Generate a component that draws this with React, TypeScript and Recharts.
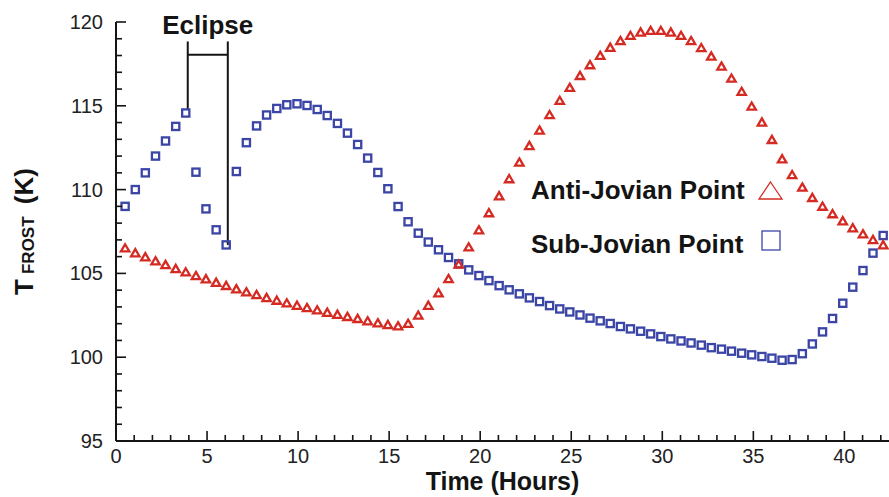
import React from "react";
import {
  ScatterChart,
  Scatter,
  XAxis,
  YAxis,
  ReferenceLine,
  Legend,
} from "recharts";

// sample times (hours) shared by both series
const hours = [
  0.5, 1.06, 1.61, 2.17, 2.72, 3.28, 3.83, 4.39, 4.94, 5.5, 6.05, 6.61, 7.16,
  7.72, 8.27, 8.83, 9.38, 9.94, 10.49, 11.05, 11.6, 12.16, 12.71, 13.27, 13.82,
  14.38, 14.93, 15.49, 16.04, 16.6, 17.15, 17.71, 18.26, 18.82, 19.37, 19.93,
  20.48, 21.04, 21.59, 22.15, 22.7, 23.26, 23.81, 24.37, 24.92, 25.48, 26.03,
  26.59, 27.14, 27.7, 28.25, 28.81, 29.36, 29.92, 30.47, 31.03, 31.58, 32.14,
  32.69, 33.25, 33.8, 34.36, 34.91, 35.47, 36.02, 36.58, 37.13, 37.69, 38.24,
  38.8, 39.35, 39.91, 40.46, 41.02, 41.57, 42.13,
];

const antiJovian = [
  106.5, 106.21, 105.97, 105.73, 105.51, 105.27, 105.07, 104.85, 104.66,
  104.45, 104.26, 104.06, 103.88, 103.72, 103.54, 103.38, 103.22, 103.08,
  102.94, 102.8, 102.66, 102.54, 102.41, 102.29, 102.15, 102.03, 101.93,
  101.85, 102.0, 102.49, 103.08, 103.82, 104.67, 105.53, 106.56, 107.58, 108.6,
  109.61, 110.63, 111.62, 112.61, 113.53, 114.45, 115.3, 116.08, 116.79,
  117.43, 117.99, 118.47, 118.87, 119.18, 119.38, 119.48, 119.48, 119.38,
  119.18, 118.87, 118.45, 117.95, 117.35, 116.63, 115.84, 114.96, 114.01,
  112.97, 111.82, 110.87, 110.13, 109.51, 108.99, 108.54, 108.12, 107.7,
  107.34, 107.0, 106.69,
];

const subJovian = [
  109.0, 110.0, 111.0, 112.0, 112.9, 113.77, 114.57, 111.04, 108.85, 107.6,
  106.7, 111.08, 112.8, 113.8, 114.45, 114.84, 115.06, 115.12, 115.02, 114.78,
  114.42, 113.95, 113.37, 112.69, 111.88, 111.02, 110.05, 108.99, 108.08,
  107.4, 106.87, 106.41, 105.95, 105.57, 105.21, 104.87, 104.57, 104.27,
  104.02, 103.78, 103.54, 103.32, 103.08, 102.88, 102.7, 102.52, 102.33,
  102.17, 102.01, 101.83, 101.69, 101.55, 101.39, 101.23, 101.09, 100.97,
  100.85, 100.72, 100.57, 100.48, 100.36, 100.24, 100.14, 100.04, 99.94,
  99.82, 99.86, 100.21, 100.79, 101.51, 102.31, 103.22, 104.18, 105.17,
  106.21, 107.26,
];

const xTicks = [
  0, 1, 2, 3, 4, 5, 6, 7, 8, 9, 10, 11, 12, 13, 14, 15, 16, 17, 18, 19, 20,
  21, 22, 23, 24, 25, 26, 27, 28, 29, 30, 31, 32, 33, 34, 35, 36, 37, 38, 39,
  40, 41, 42,
];
const yTicks = [
  95, 96, 97, 98, 99, 100, 101, 102, 103, 104, 105, 106, 107, 108, 109, 110,
  111, 112, 113, 114, 115, 116, 117, 118, 119, 120,
];

// eclipse bracket (hours / kelvin)
const eclipseStart = 3.94;
const eclipseEnd = 6.14;
const eclipseTop = 118.84;
const eclipseBar = 118.05;
const eclipseStartLow = 114.78;
const eclipseEndLow = 106.7;

const RED = "#d42a22";
const BLUE = "#3a45a6";
const INK = "#141414";
const FONT = "'Liberation Sans', Arial, Helvetica, sans-serif";

const antiData = hours.map((t, i) => ({ t, v: antiJovian[i] }));
const subData = hours.map((t, i) => ({ t, v: subJovian[i] }));

const TriangleMark = (props: any) => {
  const { cx, cy } = props;
  return (
    <polygon
      points={`${cx},${cy - 4} ${cx + 4.2},${cy + 3.2} ${cx - 4.2},${cy + 3.2}`}
      fill="none"
      stroke={RED}
      strokeWidth={2.3}
    />
  );
};

const SquareMark = (props: any) => {
  const { cx, cy } = props;
  return (
    <rect
      x={cx - 3.6}
      y={cy - 3.6}
      width={7.2}
      height={7.2}
      fill="none"
      stroke={BLUE}
      strokeWidth={2.3}
    />
  );
};

const XTick = (props: any) => {
  const { x, y, payload } = props;
  const major = payload.value % 5 === 0;
  return (
    <g>
      <line x1={x} x2={x} y1={y} y2={y - (major ? 10 : 6)} stroke={INK} strokeWidth={1.6} />
      {major && (
        <text x={x} y={y + 22} textAnchor="middle" fontSize={20} fill="#222">
          {payload.value}
        </text>
      )}
    </g>
  );
};

const YTick = (props: any) => {
  const { x, y, payload } = props;
  const major = payload.value % 5 === 0;
  return (
    <g>
      <line x1={x} x2={x + (major ? 10 : 6)} y1={y} y2={y} stroke={INK} strokeWidth={1.6} />
      {major && (
        <text x={x - 13} y={y + 7} textAnchor="end" fontSize={20} fill="#222">
          {payload.value}
        </text>
      )}
    </g>
  );
};

const YTitle = (props: any) => {
  const { viewBox } = props;
  const bx = viewBox.x + 33;
  const cy = viewBox.y + viewBox.height / 2;
  return (
    <text
      x={bx}
      y={cy}
      transform={`rotate(-90, ${bx}, ${cy})`}
      textAnchor="middle"
      fontWeight="bold"
      fill={INK}
    >
      <tspan fontSize={26}>T</tspan>
      <tspan fontSize={17} dx={5} dy={1}>FROST</tspan>
      <tspan fontSize={26} dx={5} dy={-1}>{"\u00A0(K)"}</tspan>
    </text>
  );
};

const LegendBox = () => (
  <svg width={260} height={100} style={{ overflow: "visible" }}>
    <g fontFamily={FONT} fontWeight="bold" fontSize={26} fill={INK}>
      <text x={0} y={29}>Anti-Jovian Point</text>
      <text x={0} y={83}>Sub-Jovian Point</text>
    </g>
    <polygon points="239.5,12 251,29 228,29" fill="none" stroke={RED} strokeWidth={1.3} />
    <rect x={231} y={61} width={18} height={19} fill="none" stroke={BLUE} strokeWidth={1.3} />
  </svg>
);

export default function App() {
  return (
    <div
      style={{
        position: "absolute",
        left: 0,
        top: 0,
        width: 889,
        height: 497,
        background: "#fff",
        fontFamily: FONT,
        overflow: "hidden",
      }}
    >
      <ScatterChart
        width={889}
        height={497}
        margin={{ top: 22, right: 0, bottom: 0, left: 0 }}
      >
        <XAxis
          type="number"
          dataKey="t"
          domain={[0, 42.45]}
          allowDataOverflow
          ticks={xTicks}
          interval={0}
          tickSize={0}
          tickMargin={0}
          tickLine={false}
          tick={<XTick />}
          height={56}
          axisLine={{ stroke: INK, strokeWidth: 2 }}
          label={{
            value: "Time (Hours)",
            position: "insideBottom",
            offset: 7,
            fontSize: 25,
            fontWeight: "bold",
            fill: INK,
          }}
        />
        <YAxis
          type="number"
          dataKey="v"
          domain={[95, 120]}
          allowDataOverflow
          ticks={yTicks}
          interval={0}
          tickSize={0}
          tickMargin={0}
          tickLine={false}
          tick={<YTick />}
          width={116}
          axisLine={{ stroke: INK, strokeWidth: 2 }}
          label={<YTitle />}
        />
        <ReferenceLine
          segment={[
            { x: eclipseStart, y: eclipseStartLow },
            { x: eclipseStart, y: eclipseTop },
          ]}
          stroke={INK}
          strokeWidth={2}
        />
        <ReferenceLine
          segment={[
            { x: eclipseEnd, y: eclipseEndLow },
            { x: eclipseEnd, y: eclipseTop },
          ]}
          stroke={INK}
          strokeWidth={2}
        />
        <ReferenceLine
          segment={[
            { x: eclipseStart, y: eclipseBar },
            { x: eclipseEnd, y: eclipseBar },
          ]}
          stroke={INK}
          strokeWidth={2}
          label={{
            value: "Eclipse",
            position: "top",
            offset: 21,
            fontSize: 26,
            fontWeight: "bold",
            fill: INK,
          }}
        />
        <Scatter
          name="Sub-Jovian Point"
          data={subData}
          dataKey="v"
          shape={SquareMark}
          isAnimationActive={false}
        />
        <Scatter
          name="Anti-Jovian Point"
          data={antiData}
          dataKey="v"
          shape={TriangleMark}
          isAnimationActive={false}
        />
        <Legend
          layout="vertical"
          align="center"
          verticalAlign="middle"
          content={<LegendBox />}
          wrapperStyle={{ left: 531, top: 170, width: 260, height: 100 }}
        />
      </ScatterChart>
    </div>
  );
}
